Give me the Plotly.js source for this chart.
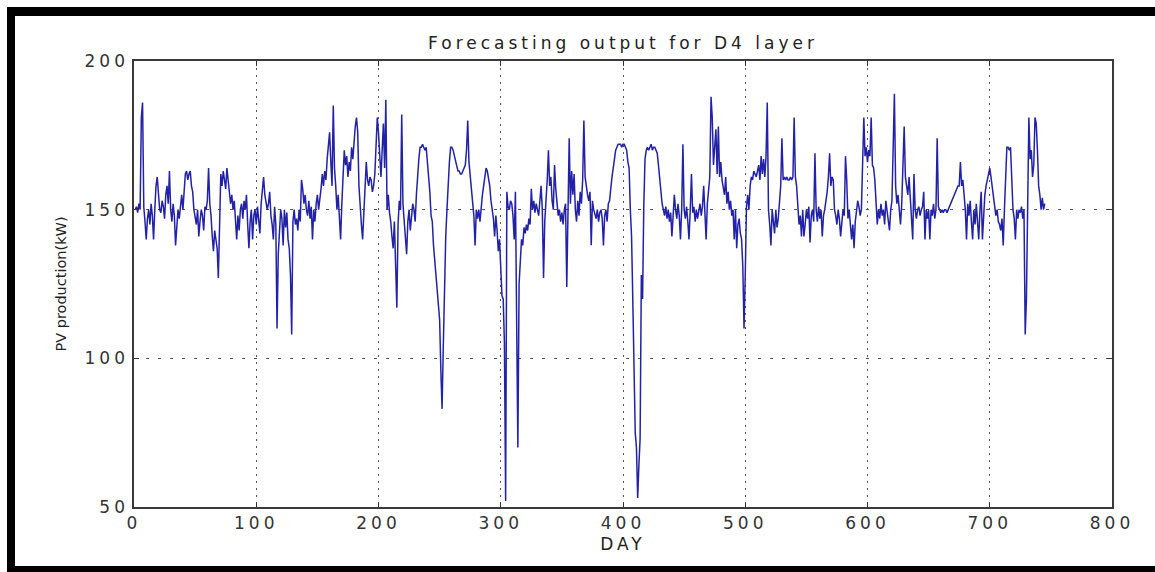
<!DOCTYPE html>
<html>
<head>
<meta charset="utf-8">
<script src="https://cdn.plot.ly/plotly-3.0.1.min.js"></script>
<style>
  html, body { margin: 0; padding: 0; background: #fff; }
  #wrap { position: relative; width: 1155px; height: 572px; overflow: hidden; }
  #chart { position: absolute; left: 0; top: 0; width: 1155px; height: 572px; }
  .bar { position: absolute; background: #000; }
  .xtick text, .ytick text { letter-spacing: 4px; }
  .gtitle { letter-spacing: 4px; }
  .xtitle { letter-spacing: 4px; }
</style>
</head>
<body>
<div id="wrap">
  <div id="chart"></div>
  <div class="bar" style="left:7px; top:7px; width:1148px; height:9px;"></div>
  <div class="bar" style="left:7px; top:7px; width:8px; height:565px;"></div>
  <div class="bar" style="left:7px; top:566px; width:1148px; height:6px;"></div>
</div>
<script>
// Forecasting output for D4 layer — PV production (kW) per day
const chartTitle = "Forecasting output for D4 layer";
const xLabel = "DAY";
const yLabel = "PV production(kW)";
const xTicks = [0, 100, 200, 300, 400, 500, 600, 700, 800];
const yTicks = [50, 100, 150, 200];

const pv = [
  150, 151, 149, 152, 150, 181, 186, 151, 146, 140,
  147, 150, 145, 152, 148, 140, 150, 158, 161, 154,
  150, 149, 153, 151, 147, 155, 158, 152, 163, 150,
  146, 152, 148, 138, 143, 150, 147, 152, 155, 150,
  157, 162, 163, 160, 162, 163, 158, 156, 150, 147,
  145, 150, 141, 146, 150, 148, 143, 151, 150, 153,
  164, 152, 148, 141, 136, 143, 140, 137, 127, 150,
  162, 158, 163, 160, 157, 164, 160, 155, 152, 155,
  150, 153, 145, 140, 148, 143, 150, 152, 147, 153,
  150, 155, 145, 137, 146, 150, 140, 148, 150, 145,
  151, 147, 142, 152, 156, 161, 155, 153, 150, 152,
  156, 148, 145, 140, 151, 145, 110, 135, 142, 150,
  147, 138, 150, 144, 149, 140, 137, 128, 108, 146,
  150, 145, 147, 143, 150, 146, 160, 157, 152, 155,
  150, 148, 153, 147, 151, 140, 150, 146, 152, 155,
  150, 153, 157, 162, 158, 163, 160, 167, 172, 176,
  166, 158, 185, 164, 158, 150, 155, 145, 140, 152,
  160, 170, 165, 168, 161, 166, 163, 171, 167, 174,
  178, 181, 176, 158, 150, 145, 140, 150, 157, 166,
  160, 158, 161, 160, 156, 158, 162, 170, 181, 176,
  166, 161, 170, 179, 164, 187, 150, 155, 149, 146,
  141, 137, 146, 130, 117, 145, 153, 150, 182, 152,
  147, 140, 135, 146, 150, 143, 148, 152, 150, 146,
  155, 162, 167, 171, 171, 172, 171, 170, 171, 166,
  162, 156, 148, 146, 138, 133, 126, 122, 118, 113,
  96, 83, 104, 128, 141, 150, 160, 166, 171, 171,
  170, 168, 166, 164, 163, 163, 162, 162, 163, 164,
  165, 170, 180, 166, 162, 158, 152, 148, 138, 150,
  147, 150, 146, 152, 155, 158, 162, 164, 163, 161,
  158, 153, 150, 147, 141, 148, 143, 136, 140, 128,
  121, 120, 105, 52, 156, 151, 150, 153, 152, 148,
  140, 156, 114, 70, 125, 132, 140, 138, 144, 142,
  145, 143, 147, 145, 157, 150, 153, 149, 152, 150,
  148, 153, 158, 150, 127, 146, 152, 160, 170, 158,
  161, 153, 150, 165, 157, 152, 148, 150, 146, 149,
  145, 150, 152, 124, 150, 174, 152, 163, 155, 162,
  150, 146, 153, 148, 156, 152, 160, 180, 161, 157,
  155, 153, 156, 138, 153, 150, 148, 147, 150, 146,
  149, 150, 147, 138, 148, 150, 146, 152, 153, 158,
  161, 164, 168, 170, 171, 172, 172, 172, 171, 172,
  172, 171, 170, 166, 164, 150, 141, 120, 97, 75,
  70, 53, 64, 73, 128, 120, 151, 167, 170, 171,
  170, 171, 172, 170, 171, 171, 170, 169, 165, 160,
  157, 152, 150, 148, 151, 147, 150, 146, 149, 141,
  148, 155, 150, 147, 152, 148, 140, 150, 172, 150,
  147, 151, 146, 140, 150, 162, 149, 151, 146, 150,
  147, 150, 152, 148, 151, 158, 146, 140, 152, 156,
  161, 188, 181, 165, 170, 177, 162, 178, 161, 166,
  160, 158, 155, 161, 152, 156, 150, 153, 148, 150,
  140, 150, 137, 145, 147, 142, 140, 131, 110, 128,
  151, 155, 150, 158, 161, 160, 163, 162, 161, 163,
  165, 160, 168, 162, 167, 161, 168, 186, 150, 145,
  138, 150, 146, 142, 150, 144, 147, 152, 158, 174,
  160, 161, 160, 161, 160, 160, 161, 160, 161, 181,
  161, 158, 150, 145, 148, 141, 150, 141, 145, 150,
  147, 151, 139, 148, 150, 146, 169, 150, 146, 151,
  147, 150, 141, 148, 150, 153, 156, 161, 169, 158,
  161, 160, 150, 148, 145, 150, 147, 141, 146, 150,
  148, 168, 160, 147, 150, 143, 140, 145, 137, 146,
  150, 153, 151, 148, 150, 164, 181, 168, 171, 166,
  170, 168, 181, 165, 164, 160, 151, 145, 150, 147,
  152, 148, 150, 145, 153, 149, 147, 143, 150, 153,
  171, 189, 158, 152, 155, 151, 145, 152, 164, 178,
  161, 158, 155, 161, 153, 148, 140, 162, 150, 147,
  150, 151, 148, 150, 151, 156, 140, 150, 147, 150,
  140, 150, 148, 152, 147, 150, 174, 151, 150, 149,
  150, 149, 150, 150, 149, 150, 151, 152, 153, 154,
  155, 156, 157, 158, 158, 166, 158, 160, 155, 150,
  140, 152, 148, 153, 146, 140, 150, 145, 152, 147,
  140, 150, 156, 140, 150, 155, 158, 160, 163, 164,
  161, 158, 155, 152, 148, 150, 146, 145, 143, 147,
  138, 150, 160, 171, 171, 170, 171, 158, 150, 147,
  140, 150, 147, 150, 149, 151, 147, 150, 108, 120,
  150, 181, 167, 170, 161, 165, 181, 179, 170, 158,
  155, 150, 154, 150, 152
];
const days = pv.map((v, i) => i + 1);

const fontFam = "DejaVu Sans, Verdana, sans-serif";

const trace = {
  x: days,
  y: pv,
  type: "scatter",
  mode: "lines",
  line: { color: "#2222a8", width: 1.5 },
  hoverinfo: "x+y"
};

const axisCommon = {
  showline: true,
  linecolor: "#3a3a3a",
  linewidth: 1.6,
  mirror: "allticks",
  ticks: "inside",
  ticklen: 5,
  tickwidth: 1,
  tickcolor: "#333",
  showgrid: true,
  gridcolor: "#555",
  gridwidth: 1,
  zeroline: false,
  tickfont: { family: fontFam, size: 17, color: "#333" }
};

const layout = {
  width: 1155,
  height: 572,
  paper_bgcolor: "#ffffff",
  plot_bgcolor: "#ffffff",
  showlegend: false,
  margin: { l: 134, r: 43, t: 61, b: 65 },
  title: {
    text: chartTitle,
    font: { family: fontFam, size: 17, color: "#222" },
    x: 0.5, xref: "paper", xanchor: "center",
    y: 1 - 43 / 572, yref: "container", yanchor: "middle"
  },
  xaxis: Object.assign({}, axisCommon, {
    range: [0, 800],
    tickvals: xTicks,
    ticktext: xTicks.map(String),
    griddash: "2px,5px",
    title: { text: xLabel, font: { family: fontFam, size: 17, color: "#222" }, standoff: 6 }
  }),
  yaxis: Object.assign({}, axisCommon, {
    range: [50, 200],
    tickvals: yTicks,
    ticktext: yTicks.map(String),
    griddash: "3px,9px",
    title: { text: yLabel, font: { family: fontFam, size: 14.5, color: "#222" }, standoff: 14 }
  })
};

Plotly.newPlot("chart", [trace], layout, { displayModeBar: false, staticPlot: true });
</script>
</body>
</html>
